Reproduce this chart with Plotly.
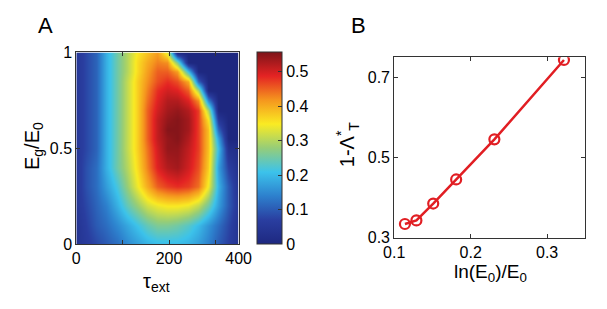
import plotly.graph_objects as go

# ---------------- Panel A data ----------------
tau = [0, 21.9, 43.8, 65.6, 87.5, 109.4, 131.3, 153.1, 175, 196.9, 218.8, 240.6, 262.5, 284.4, 306.3, 328.1, 350]
eg = [0.0, 0.1, 0.2, 0.3, 0.4, 0.5, 0.55, 0.6, 0.65, 0.7, 0.75, 0.8, 0.85, 0.9, 0.95, 1.0]
z_rows = [
    [0.04, 0.06, 0.08, 0.10, 0.12, 0.15, 0.17, 0.19, 0.20, 0.20, 0.20, 0.19, 0.17, 0.14, 0.10, 0.07, 0.04],
    [0.04, 0.07, 0.10, 0.12, 0.15, 0.18, 0.21, 0.24, 0.26, 0.26, 0.25, 0.23, 0.20, 0.16, 0.12, 0.08, 0.04],
    [0.05, 0.08, 0.11, 0.14, 0.19, 0.24, 0.28, 0.32, 0.34, 0.35, 0.35, 0.34, 0.31, 0.25, 0.17, 0.10, 0.05],
    [0.05, 0.09, 0.12, 0.17, 0.22, 0.28, 0.34, 0.40, 0.45, 0.47, 0.48, 0.47, 0.44, 0.34, 0.19, 0.10, 0.04],
    [0.05, 0.09, 0.12, 0.19, 0.25, 0.30, 0.36, 0.43, 0.49, 0.52, 0.53, 0.50, 0.46, 0.37, 0.17, 0.07, 0.03],
    [0.05, 0.08, 0.11, 0.19, 0.25, 0.31, 0.37, 0.44, 0.50, 0.54, 0.54, 0.51, 0.47, 0.38, 0.20, 0.03, 0.02],
    [0.05, 0.08, 0.11, 0.19, 0.25, 0.31, 0.37, 0.45, 0.51, 0.54, 0.55, 0.52, 0.47, 0.38, 0.17, 0.00, 0.00],
    [0.05, 0.08, 0.11, 0.19, 0.25, 0.31, 0.37, 0.45, 0.51, 0.55, 0.55, 0.53, 0.47, 0.38, 0.11, 0.00, 0.00],
    [0.05, 0.08, 0.11, 0.19, 0.25, 0.31, 0.37, 0.45, 0.51, 0.54, 0.55, 0.53, 0.47, 0.35, 0.05, 0.00, 0.00],
    [0.05, 0.08, 0.11, 0.19, 0.25, 0.31, 0.37, 0.45, 0.50, 0.53, 0.54, 0.52, 0.47, 0.29, 0.00, 0.00, 0.00],
    [0.05, 0.08, 0.11, 0.19, 0.25, 0.31, 0.37, 0.44, 0.49, 0.52, 0.52, 0.49, 0.42, 0.14, 0.00, 0.00, 0.00],
    [0.05, 0.08, 0.11, 0.19, 0.25, 0.31, 0.37, 0.43, 0.48, 0.50, 0.49, 0.45, 0.29, 0.00, 0.00, 0.00, 0.00],
    [0.05, 0.08, 0.11, 0.19, 0.25, 0.31, 0.37, 0.42, 0.46, 0.48, 0.46, 0.40, 0.11, 0.00, 0.00, 0.00, 0.00],
    [0.05, 0.08, 0.11, 0.19, 0.25, 0.30, 0.36, 0.41, 0.45, 0.45, 0.41, 0.20, 0.00, 0.00, 0.00, 0.00, 0.00],
    [0.05, 0.08, 0.11, 0.19, 0.25, 0.30, 0.36, 0.40, 0.43, 0.42, 0.26, 0.00, 0.00, 0.00, 0.00, 0.00, 0.00],
    [0.05, 0.08, 0.11, 0.19, 0.25, 0.30, 0.35, 0.38, 0.41, 0.33, 0.00, 0.00, 0.00, 0.00, 0.00, 0.00, 0.00],
]
a_xtick_vals = [0, 100, 200, 300, 350]
a_xtick_text = ["0", "", "200", "", "400"]
a_ytick_vals = [0, 0.5, 1]
a_ytick_text = ["0", "0.5", "1"]
cb_tick_vals = [0, 0.1, 0.2, 0.3, 0.4, 0.5]
cb_tick_text = ["0", "0.1", "0.2", "0.3", "0.4", "0.5"]

# ---------------- Panel B data ----------------
ln_e0 = [0.114, 0.129, 0.151, 0.181, 0.231, 0.322]
one_minus_lambda = [0.334, 0.343, 0.385, 0.445, 0.545, 0.743]
b_xtick_vals = [0.1, 0.2, 0.3]
b_xtick_text = ["0.1", "0.2", "0.3"]
b_ytick_vals = [0.3, 0.5, 0.7]
b_ytick_text = ["0.3", "0.5", "0.7"]

W, H = 607, 309
def px(x):
    return x / W
def py(y):
    return (H - y) / H

jet_muted = [
    [0.0, "rgb(30,40,128)"],
    [0.125, "rgb(42,62,160)"],
    [0.25, "rgb(45,128,205)"],
    [0.375, "rgb(60,195,235)"],
    [0.5, "rgb(150,205,120)"],
    [0.625, "rgb(250,235,35)"],
    [0.75, "rgb(245,150,30)"],
    [0.875, "rgb(228,35,35)"],
    [1.0, "rgb(125,20,25)"],
]

FONT = "Liberation Sans, Arial, Helvetica, sans-serif"
RED = "rgb(225,30,35)"

fig = go.Figure()
fig.add_trace(go.Heatmap(
    x=tau, y=eg, z=z_rows, zmin=0, zmax=0.556, zsmooth="best",
    colorscale=jet_muted, xaxis="x", yaxis="y",
    colorbar=dict(
        x=px(256), xanchor="left", y=py(250), yanchor="bottom",
        len=(250 - 47) / H, lenmode="fraction",
        thickness=25, thicknessmode="pixels", xpad=0, ypad=0,
        outlinewidth=1, outlinecolor="#333",
        tickvals=cb_tick_vals, ticktext=cb_tick_text,
        ticks="inside", ticklen=4, tickcolor="#333",
        tickfont=dict(size=16, color="black", family=FONT),
    ),
))
fig.add_trace(go.Scatter(
    x=ln_e0, y=one_minus_lambda, mode="lines+markers",
    xaxis="x2", yaxis="y2",
    line=dict(color=RED, width=2.5),
    marker=dict(symbol="circle-open", size=10, color=RED,
                line=dict(width=2.2, color=RED)),
    showlegend=False,
))

axis_common = dict(
    showline=True, linecolor="#333", linewidth=1, mirror="ticks",
    ticks="inside", ticklen=4, tickcolor="#333", showgrid=False, zeroline=False,
    tickfont=dict(size=16, color="black", family=FONT),
)

fig.update_layout(
    width=W, height=H, margin=dict(l=0, r=0, t=0, b=0),
    paper_bgcolor="white", plot_bgcolor="white",
    font=dict(family=FONT, color="black"),
    showlegend=False,
    xaxis=dict(domain=[px(68), px(237)], range=[0, 350], anchor="y",
               tickvals=a_xtick_vals, ticktext=a_xtick_text, **axis_common),
    yaxis=dict(domain=[py(250), py(47)], range=[0, 1], anchor="x",
               tickvals=a_ytick_vals, ticktext=a_ytick_text, **axis_common),
    xaxis2=dict(domain=[px(399), px(598)], range=[0.1, 0.35], anchor="y2",
                tickvals=b_xtick_vals, ticktext=b_xtick_text, **axis_common),
    yaxis2=dict(domain=[py(243), py(52)], range=[0.3, 0.75], anchor="x2",
                tickvals=b_ytick_vals, ticktext=b_ytick_text, **axis_common),
)

ann = [
    dict(text="A", x=px(36), y=py(18), size=22),
    dict(text="B", x=px(362), y=py(18), size=22),
    dict(text="τ<sub>ext</sub>", x=px(152), y=py(291), size=20),
    dict(text="ln(E<sub>0</sub>)/E<sub>0</sub>", x=px(499), y=py(280), size=19),
    dict(text="E<sub>g</sub>/E<sub>0</sub>", x=px(24), y=py(146), size=20, angle=-90),
    dict(text="1-Λ<sup>*</sup><sub>T</sub>", x=px(350), y=py(144), size=20, angle=-90),
]
for a in ann:
    fig.add_annotation(
        text=a["text"], x=a["x"], y=a["y"], xref="paper", yref="paper",
        xanchor="center", yanchor="middle", showarrow=False,
        textangle=a.get("angle", 0),
        font=dict(size=a["size"], color="black", family=FONT),
    )

fig.write_html(
    "out.html",
    config={"displayModeBar": False},
    post_script="document.body.style.margin='0';document.body.style.overflow='hidden';",
)
